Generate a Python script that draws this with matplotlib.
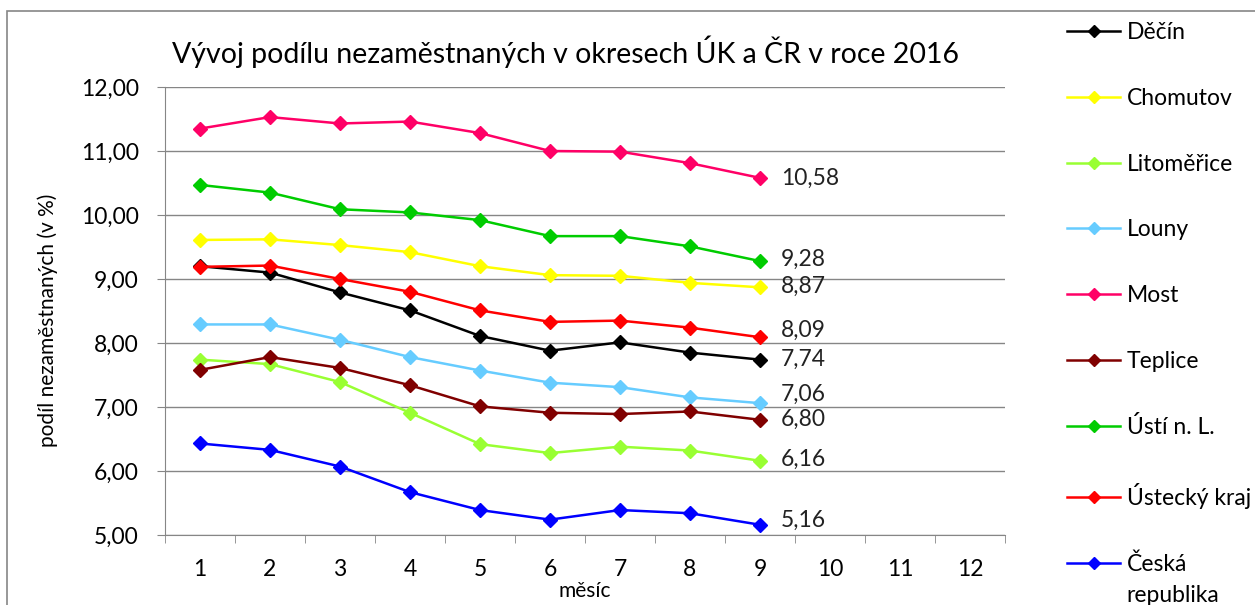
import matplotlib.pyplot as plt
from matplotlib.patches import Rectangle

plt.rcParams['font.family'] = ['Lato', 'DejaVu Sans']

months = [1, 2, 3, 4, 5, 6, 7, 8, 9]
categories = [str(m) for m in range(1, 13)]
yticks = [5, 6, 7, 8, 9, 10, 11, 12]

names = ["Děčín", "Chomutov", "Litoměřice", "Louny", "Most", "Teplice",
         "Ústí n. L.", "Ústecký kraj", "Česká"]
colors = ["#000000", "#FFFF00", "#99FF33", "#66CCFF", "#FF0066", "#800000",
          "#00CC00", "#FF0000", "#0000FF"]

decin = [9.20, 9.10, 8.79, 8.51, 8.11, 7.88, 8.01, 7.85, 7.74]
chomutov = [9.61, 9.62, 9.53, 9.42, 9.20, 9.06, 9.05, 8.94, 8.87]
litomerice = [7.74, 7.67, 7.39, 6.91, 6.42, 6.28, 6.38, 6.32, 6.16]
louny = [8.29, 8.29, 8.05, 7.78, 7.57, 7.38, 7.31, 7.15, 7.06]
most = [11.35, 11.53, 11.43, 11.46, 11.28, 11.00, 10.99, 10.81, 10.58]
teplice = [7.58, 7.78, 7.61, 7.34, 7.01, 6.91, 6.89, 6.93, 6.80]
usti = [10.47, 10.35, 10.09, 10.04, 9.92, 9.67, 9.67, 9.51, 9.28]
ustecky = [9.19, 9.21, 9.00, 8.80, 8.51, 8.33, 8.35, 8.24, 8.09]
cr = [6.43, 6.33, 6.07, 5.67, 5.39, 5.24, 5.39, 5.34, 5.16]

series = [decin, chomutov, litomerice, louny, most, teplice, usti, ustecky, cr]
# small vertical nudges (points) for end labels, like Excel does to avoid overlaps
nudge = [0, 1, 1, 6, 0, 0, 1, 5, 3]

fig = plt.figure(figsize=(12.55, 6.05), dpi=100)
ax = fig.add_axes([165/1255, 1-535/605, 840/1255, 448/605])

for name, col, vals, dy in zip(names, colors, series, nudge):
    ax.plot(months, vals, color=col, lw=1.8, marker='D', ms=7.5,
            mec=col, mfc=col, label=name)
    ax.annotate(f"{vals[-1]:.2f}".replace('.', ','), (months[-1], vals[-1]),
                xytext=(15, dy), textcoords='offset points', va='center',
                ha='left', fontsize=16.5, color='#222222')

ax.set_xlim(0.5, 12.5)
ax.set_ylim(5, 12)
ax.set_yticks(yticks)
ax.set_yticklabels([f"{v:.2f}".replace('.', ',') for v in yticks], fontsize=16.5)
ax.set_xticks(range(1, 13))
ax.set_xticklabels(categories, fontsize=16.5)
ax.set_xticks([x + 0.5 for x in range(0, 13)], minor=True)
ax.tick_params(axis='x', which='major', length=0, pad=17)
ax.tick_params(axis='x', which='minor', length=6, color='#868686')
ax.tick_params(axis='y', length=6, color='#868686', pad=13)
ax.grid(axis='y', color='#868686', lw=1)
ax.set_axisbelow(True)
for s in ['top', 'right']:
    ax.spines[s].set_visible(False)
for s in ['left', 'bottom']:
    ax.spines[s].set_color('#868686')

ax.set_xlabel("měsíc", fontsize=15, labelpad=1)
fig.text(48/1255, 1-320/605, "podíl nezaměstnaných (v %)", fontsize=15,
         rotation=90, ha='center', va='center')
fig.text(566/1255, 1-52/605, "Vývoj podílu nezaměstnaných v okresech ÚK a ČR v roce 2016",
         ha='center', va='center', fontsize=20.5)

leg = fig.legend(loc='upper left', bbox_to_anchor=(1058/1255, 1-13/605), frameon=False,
                 fontsize=16.5, handlelength=2.3, labelspacing=1.95, handletextpad=0.3,
                 borderaxespad=0, markerscale=0.8)
fig.canvas.draw()
last = leg.get_texts()[-1].get_window_extent()
fig.text(last.x0/1255, (last.y0 + last.y1)/2/605 - 31/605, "republika", fontsize=16.5,
         ha='left', va='center')

fig.patches.append(Rectangle((7/1255, -0.1), 1.2, 1-11/605+0.1, transform=fig.transFigure,
                             fill=False, ec='#868686', lw=1.2, clip_on=False))

fig.savefig("out.png", dpi=100)
